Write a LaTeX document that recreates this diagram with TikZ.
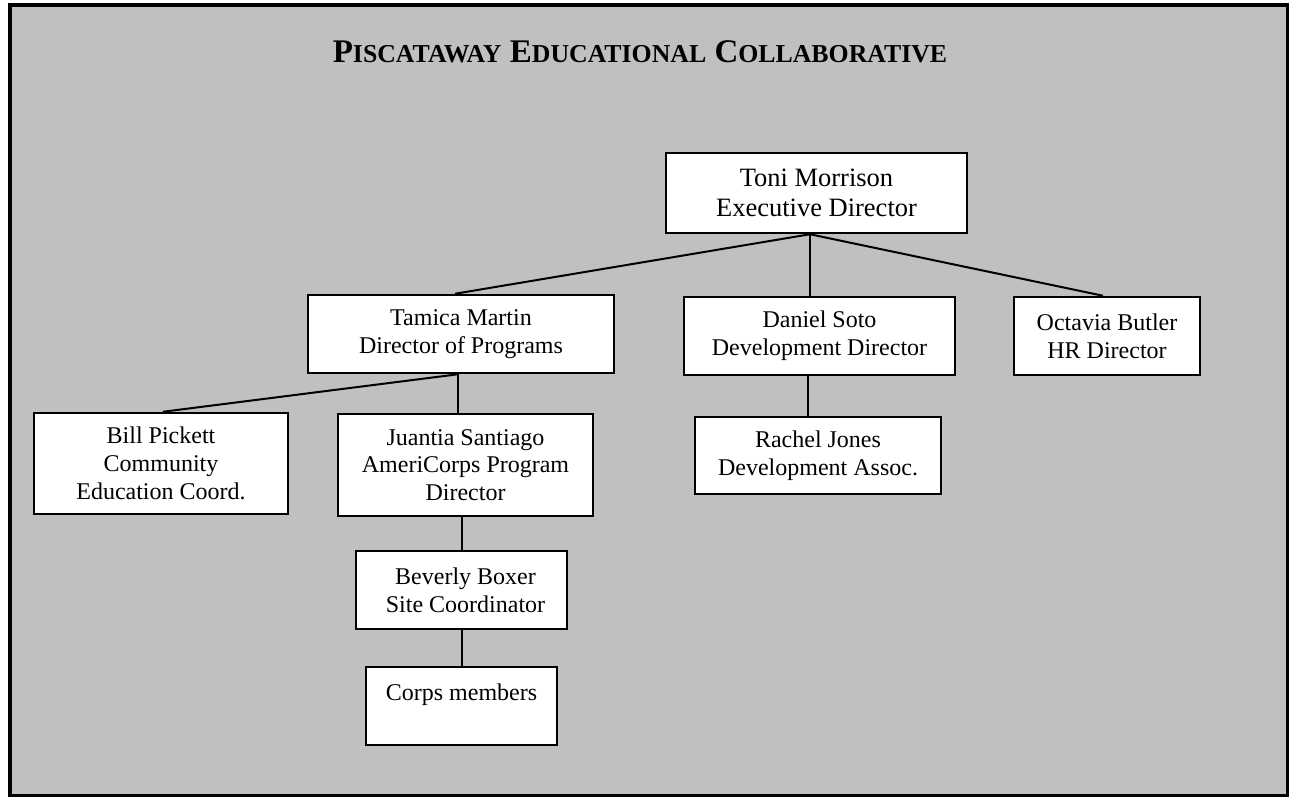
\documentclass[tikz,border=0pt]{standalone}
\usepackage{fontspec}
\setmainfont{Liberation Serif}
\usetikzlibrary{calc}
\definecolor{panelgray}{HTML}{C0C0C0}
\newcommand\fakesc[1]{{\fontsize{25.8}{25.8}\selectfont #1}}
\begin{document}
\begin{tikzpicture}[x=1pt,y=-1pt,
  box/.style={draw=black, line width=2.5pt, fill=white, align=center, inner sep=0pt,
    font=\fontsize{24}{27.7}\selectfont},
  bigbox/.style={box, font=\fontsize{26.5}{30}\selectfont},
  link/.style={draw=black, line width=2pt},
  title/.style={anchor=base, inner sep=0pt, font=\fontsize{33}{33}\selectfont\bfseries}]
\useasboundingbox (0,0) rectangle (1289,796);
\fill[white] (0,0) rectangle (1289,796);
\draw[line width=4pt, fill=panelgray] (10,5) rectangle (1287.5,796);

\node[title] (heading) at (640,62) {P\fakesc{ISCATAWAY} E\fakesc{DUCATIONAL} C\fakesc{OLLABORATIVE}};

\node[bigbox, minimum width=301pt, minimum height=80pt] (toni) at (816.5,193) {Toni Morrison\\Executive Director};
\node[box, minimum width=306pt, minimum height=78pt] (tamica) at (461,334) {Tamica Martin\\Director of Programs};
\node[box, minimum width=271pt, minimum height=78pt] (daniel) at (819.5,336) {Daniel Soto\\Development Director};
\node[box, minimum width=186pt, minimum height=78pt] (octavia) at (1107,336) {Octavia Butler\\HR Director};
\node[box, minimum width=254pt, minimum height=101pt] (bill) at (161,463.5) {Bill Pickett\\Community\\Education Coord.};
\node[box, minimum width=255pt, minimum height=102pt] (juantia) at (465.5,465) {Juantia Santiago\\AmeriCorps Program\\Director};
\node[box, minimum width=246pt, minimum height=77pt] (rachel) at (818,455.5) {Rachel Jones\\Development Assoc.};
\node[box, minimum width=211pt, minimum height=78pt] (beverly) at (461.5,590) {\hspace*{8pt}Beverly Boxer\\\hspace*{8pt}Site Coordinator};
\node[box, minimum width=191pt, minimum height=78pt] (corps) at (461.5,706) {Corps members\\\mbox{}};

\coordinate (hub) at ($(toni.south)+(-6.5,0)$);
\draw[link] (hub) -- ($(tamica.north)+(-6,0)$);
\draw[link] (hub) -- (hub |- daniel.north);
\draw[link] (hub) -- ($(octavia.north)+(-4,0)$);

\coordinate (tamhub) at ($(tamica.south)+(-3,0)$);
\draw[link] (tamhub) -- ($(bill.north)+(2,0)$);
\draw[link] (tamhub) -- (tamhub |- juantia.north);

\draw[link] (beverly.north |- juantia.south) -- (beverly.north);
\draw[link] (beverly.south) -- (corps.north);

\coordinate (danhub) at ($(daniel.south)+(-11.5,0)$);
\draw[link] (danhub) -- (danhub |- rachel.north);
\end{tikzpicture}
\end{document}
